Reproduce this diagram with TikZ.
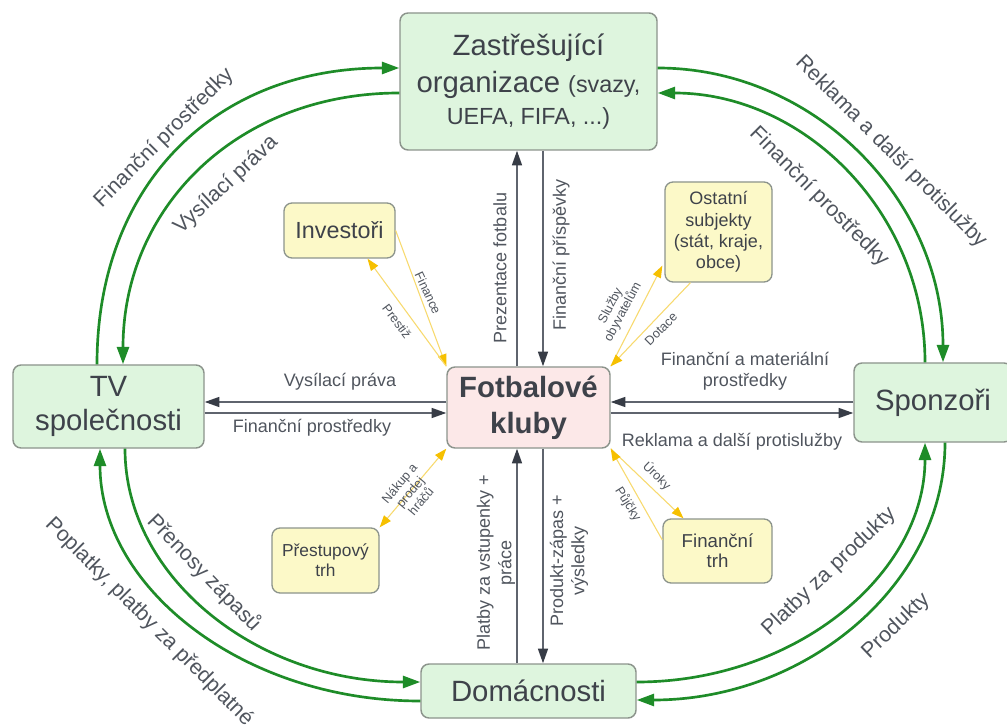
\documentclass[tikz,border=0pt]{standalone}
\usepackage{fontspec}
\setmainfont{Liberation Sans}
\usetikzlibrary{arrows.meta,calc}
\definecolor{boxgreen}{RGB}{222,245,222}
\definecolor{boxpink}{RGB}{252,232,232}
\definecolor{boxyellow}{RGB}{252,249,200}
\definecolor{boxline}{RGB}{140,148,140}
\definecolor{txt}{RGB}{62,66,74}
\definecolor{lbltxt}{RGB}{80,85,94}
\definecolor{darkline}{RGB}{95,100,110}
\definecolor{darktip}{RGB}{55,60,70}
\definecolor{arcgreen}{RGB}{30,140,40}
\definecolor{yline}{RGB}{248,218,110}
\definecolor{ytip}{RGB}{246,192,0}
\tikzset{
  box/.style={draw=boxline, line width=1.1pt, rounded corners=6pt, align=center, text=txt, inner sep=0pt},
  gbox/.style={box, fill=boxgreen},
  pbox/.style={box, fill=boxpink},
  ybox/.style={box, fill=boxyellow, line width=1pt},
  darr/.style={draw=darkline, line width=1.1pt, -{Triangle[length=11pt,width=7.5pt,color=darktip]}},
  garr/.style={draw=arcgreen, line width=2pt, -{Triangle[length=13pt,width=9pt]}},
  ytipstyle/.tip={Triangle[length=9pt,width=6.5pt,color=ytip]},
  yarr/.style={draw=yline, line width=0.8pt, -ytipstyle},
  lbl/.style={text=lbltxt, inner sep=0pt, font=\fontsize{13.5}{16}\selectfont},
  glbl/.style={text=lbltxt, inner sep=0pt, font=\fontsize{16}{19}\selectfont},
  slbl/.style={text=lbltxt, inner sep=0pt, align=center, font=\fontsize{9.5}{10.5}\selectfont}
}
\begin{document}
\begin{tikzpicture}[x=0.75pt,y=-0.75pt]
\useasboundingbox (0,0) rectangle (1007,727);
\fill[white] (0,0) rectangle (1007,727);
% boxes
\node[gbox, minimum width=192.75pt, minimum height=102.75pt, font=\fontsize{22}{28}\selectfont] (zast) at (528.5,81.5)
  {Zastřešující\\organizace {\fontsize{17.5}{21}\selectfont (svazy,}\\[-4pt]{\fontsize{17.5}{21}\selectfont UEFA, FIFA, ...)}};
\node[gbox, minimum width=143.25pt, minimum height=62.25pt, font=\fontsize{22}{25.5}\selectfont] (tv) at (108.5,406.5) {TV\\společnosti};
\node[pbox, minimum width=122.25pt, minimum height=60.75pt, font=\fontsize{22}{27}\selectfont\bfseries] (fot) at (528.5,407.5) {Fotbalové\\kluby};
\node[gbox, minimum width=118.5pt, minimum height=59.25pt, font=\fontsize{22}{26}\selectfont] (spon) at (933,402.5) {Sponzoři};
\node[gbox, minimum width=161.25pt, minimum height=40.5pt, font=\fontsize{22}{26}\selectfont] (dom) at (528.5,691) {Domácnosti};
\node[ybox, minimum width=83.25pt, minimum height=41.25pt, font=\fontsize{17.5}{20}\selectfont] (inv) at (339.5,230.5) {Investoři};
\node[ybox, minimum width=80.25pt, minimum height=75pt, font=\fontsize{13.5}{16}\selectfont] (ost) at (718.5,232) {Ostatní\\subjekty\\(stát, kraje,\\obce)};
\node[ybox, minimum width=80.25pt, minimum height=48.75pt, font=\fontsize{13}{15}\selectfont] (pre) at (325.5,560.5) {Přestupový\\trh};
\node[ybox, minimum width=81.75pt, minimum height=48pt, font=\fontsize{14}{15}\selectfont] (fin) at (717.5,551) {Finanční\\trh};
% dark connectors
\draw[darr] ($(fot.north)+(-11.5,0)$) -- ($(zast.south)+(-11.5,0)$);
\draw[darr] ($(zast.south)+(14.5,0)$) -- ($(fot.north)+(14.5,0)$);
\draw[darr] ($(dom.north)+(-11.5,0)$) -- ($(fot.south)+(-11.5,0)$);
\draw[darr] ($(fot.south)+(14.5,0)$) -- ($(dom.north)+(14.5,0)$);
\draw[darr] ($(fot.west)+(0,-5.5)$) -- ($(tv.east)+(0,-4.5)$);
\draw[darr] ($(tv.east)+(0,6.5)$) -- ($(fot.west)+(0,5.5)$);
\draw[darr] ($(spon.west)+(0,-0.5)$) -- ($(fot.east)+(0,-5.5)$);
\draw[darr] ($(fot.east)+(0,5.5)$) -- ($(spon.west)+(0,10.5)$);
% green arcs
\draw[garr] ($(tv.north)+(-11.5,0)$) .. controls +(0,-180) and +(-184,0) .. ($(zast.west)+(0,-13.5)$);
\draw[garr] ($(zast.west)+(0,11.5)$) .. controls +(-161,0) and +(0,-158) .. ($(tv.north)+(14.5,0)$);
\draw[garr] ($(zast.east)+(0,-13.5)$) .. controls +(157,0) and +(0,-162) .. ($(spon.north)+(10,0)$);
\draw[garr] ($(spon.north)+(-8,0)$) .. controls +(0,-149) and +(147,0) .. ($(zast.east)+(0,11.5)$);
\draw[garr] ($(tv.south)+(16.5,0)$) .. controls +(0,129) and +(-163,0) .. ($(dom.west)+(0,-9)$);
\draw[garr] ($(dom.west)+(0,10)$) .. controls +(-177,0) and +(0,139) .. ($(tv.south)+(-8.5,0)$);
\draw[garr] ($(dom.east)+(0,-9)$) .. controls +(158,0) and +(0,132) .. ($(spon.south)+(-8,0)$);
\draw[garr] ($(spon.south)+(12,0)$) .. controls +(0,142) and +(169,0) .. ($(dom.east)+(0,9)$);
% yellow connectors
\draw[yarr] (inv.east) -- (fot.north west);
\draw[yarr] (fot.north west) -- ($(inv.south)+(28,0)$);
\draw[yarr] (fot.north east) -- ($(ost.south west)+(-2,-17)$);
\draw[yarr] ($(ost.south)+(-28,0)$) -- (fot.north east);
\draw[yarr, ytipstyle-ytipstyle] (pre.north east) -- (fot.south west);
\draw[yarr] (fot.south east) -- ($(fin.north)+(-34,0)$);
\draw[yarr] ($(fin.west)+(0,-11)$) -- (fot.south east);
% dark labels
\node[lbl, rotate=90] (lprez) at (500,268) {Prezentace fotbalu};
\node[lbl, rotate=90] (lprisp) at (561,255) {Finanční příspěvky};
\node[lbl, rotate=90, align=center] (lvst) at (496,563) {Platby za vstupenky +\\práce};
\node[lbl, rotate=90, align=center] (lprod) at (569,561) {Produkt-zápas +\\výsledky};
\node[lbl] (lvys) at (340,382) {Vysílací práva};
\node[lbl] (lfin) at (312,428) {Finanční prostředky};
\node[lbl, align=center] (lmat) at (745,371) {Finanční a materiální\\prostředky};
\node[lbl] (lrek) at (732,442) {Reklama a další protislužby};
% green labels
\node[glbl, rotate=45] (ga) at (164,138) {Finanční prostředky};
\node[glbl, rotate=43] (gb) at (226,185) {Vysílací práva};
\node[glbl, rotate=-45] (gc) at (891,152) {Reklama a další protislužby};
\node[glbl, rotate=-45] (gd) at (819,197) {Finanční prostředky};
\node[glbl, rotate=-46] (ge) at (204,573) {Přenosy zápasů};
\node[glbl, rotate=-45] (gf) at (149,622) {Poplatky, platby za předplatné};
\node[glbl, rotate=43.6] (gg) at (829,572) {Platby za produkty};
\node[glbl, rotate=43.6] (gh) at (896,626) {Produkty};
% small labels
\node[slbl, rotate=-65] (sa) at (428,293) {Finance};
\node[slbl, rotate=-53] (sb) at (397,321) {Prestiž};
\node[slbl, rotate=62] (sc) at (617,309) {Služby\\obyvatelům};
\node[slbl, rotate=45] (sd) at (661,329) {Dotace};
\node[slbl, rotate=-44] (se) at (657,476) {Úroky};
\node[slbl, rotate=-58] (sf) at (628,504) {Půjčky};
\node[slbl, rotate=50] (sg) at (410,492) {Nákup a\\prodej\\hráčů};
\end{tikzpicture}
\end{document}
